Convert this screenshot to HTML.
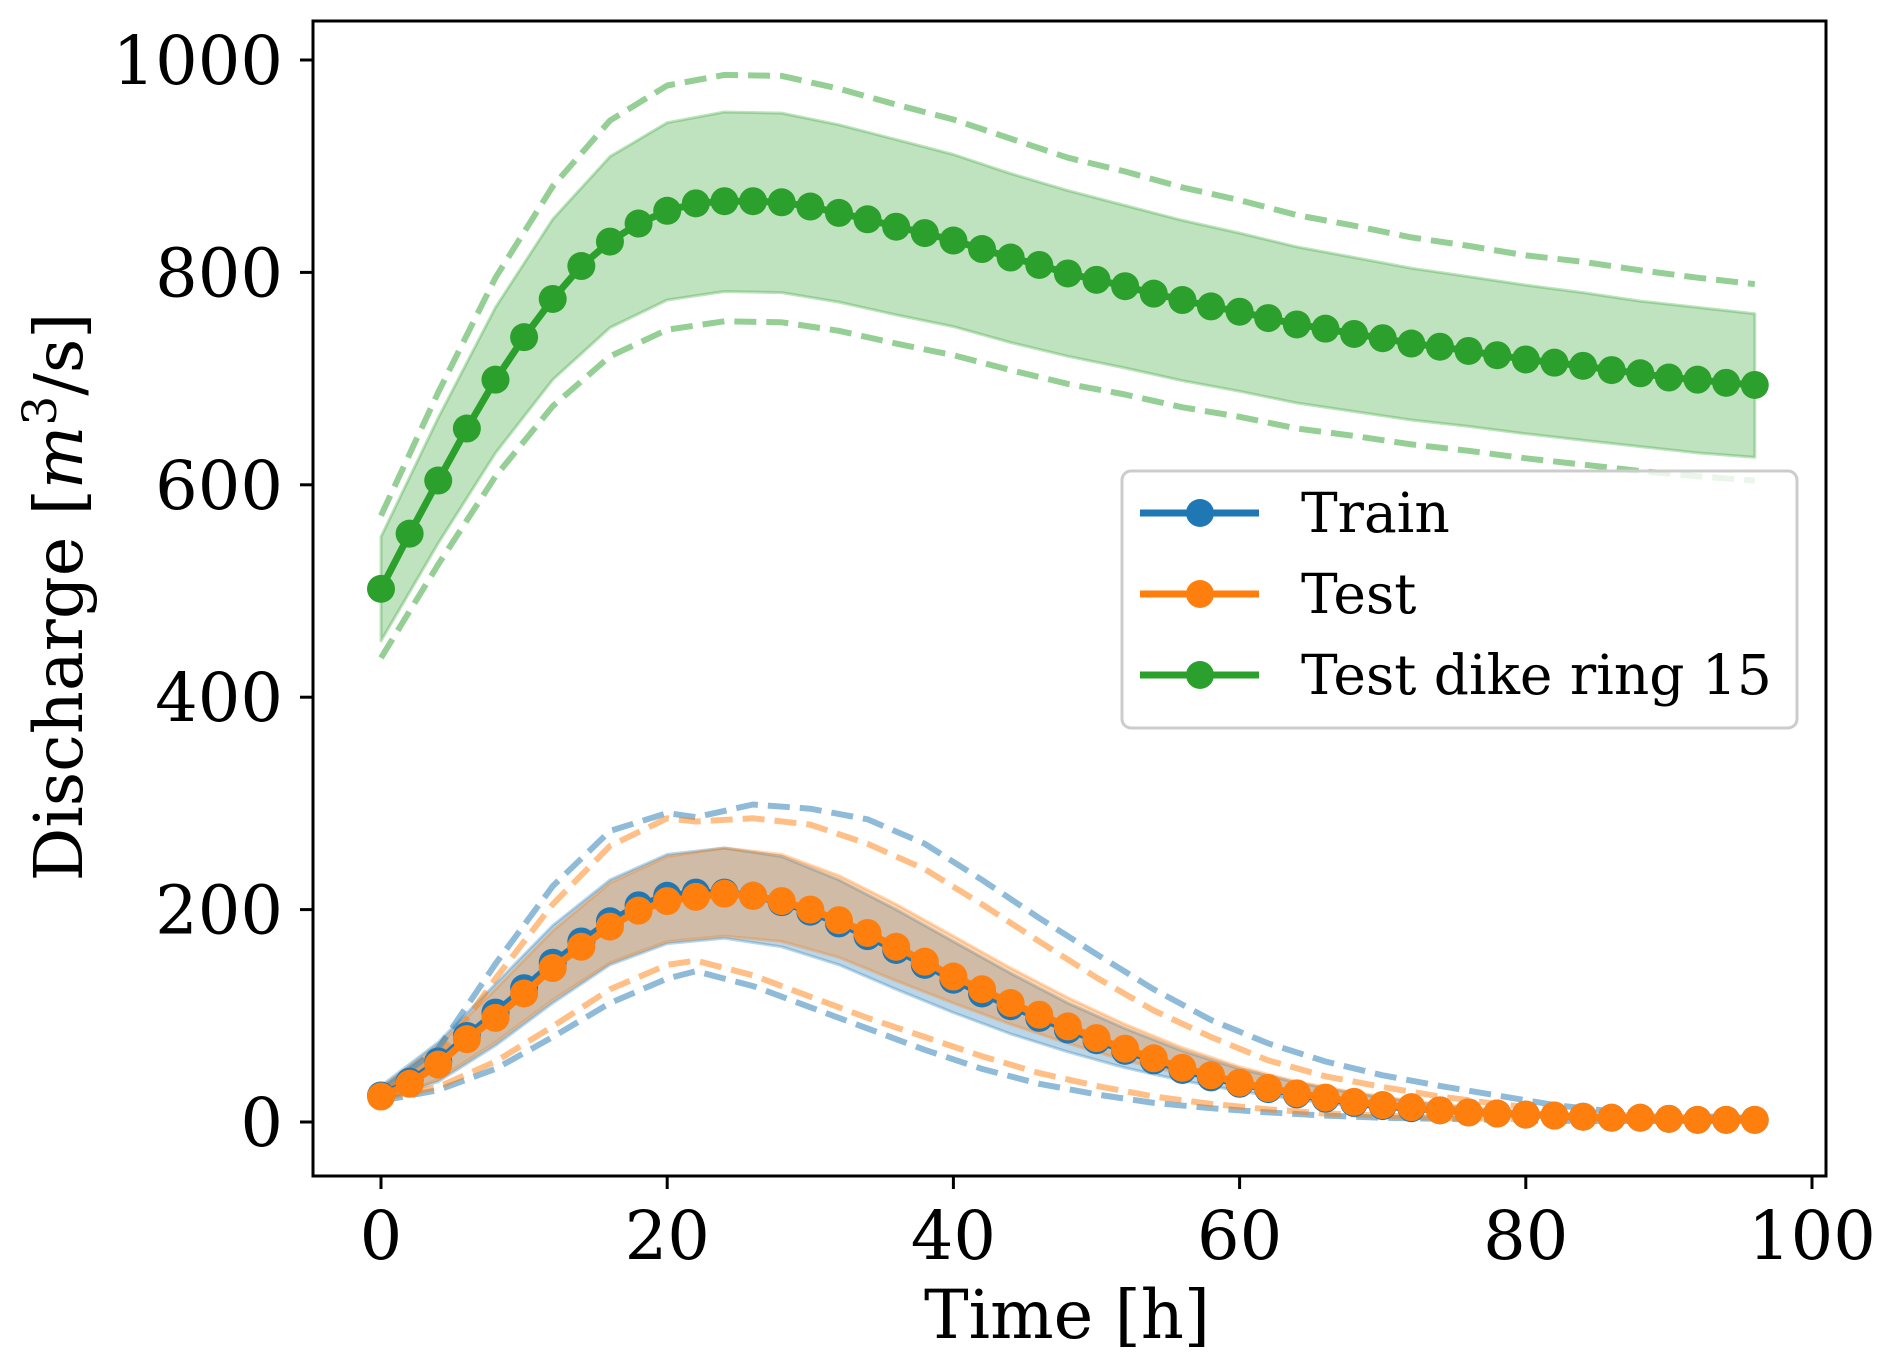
<!DOCTYPE html>
<html><head><meta charset="utf-8">
<style>
html,body{margin:0;padding:0;background:#fff;}
svg{display:block;}
text{font-family:"DejaVu Serif","Liberation Serif",serif;fill:#000;}
</style></head>
<body>
<svg id="chart" width="1891" height="1366" viewBox="0 0 1891 1366" xmlns="http://www.w3.org/2000/svg">
<rect width="1891" height="1366" fill="#fff"/>
<g id="plot"></g>
<g id="axes"></g>
<g id="legend"></g>
</svg>
<script>
// ---- data ----
const meanX = [0,2,4,6,8,10,12,14,16,18,20,22,24,26,28,30,32,34,36,38,40,42,44,46,48,50,52,54,56,58,60,62,64,66,68,70,72,74,76,78,80,82,84,86,88,90,92,94,96];
const greenMean = [502,554,604,653,699,739,775,806,829,846,858,865,867,867,866,862,856,850,843,837,830,822,814,807,799,793,787,780,774,768,763,757,751,747,742,738,733,730,726,722,718,715,712,708,705,701,699,696,694];
const orangeMean = [24,36,54,78,98,121,145,165,184,199,208,212,215,213,208,200,190,178,165,151,137,125,112,101,90,79,69,60,51,44,37,32,27,23,19,16,14,11,9,8,7,6,5,4,4,3,2,2,2];
const blueMean = [25,38,57,81,103,126,150,170,189,204,213,216,216,213,207,198,187,175,162,148,134,121,109,98,87,77,67,58,49,42,36,31,26,22,18,15,13,11,9,8,7,6,5,4,4,3,2,2,2];

const bandX = [0,4,8,12,16,20,24,28,32,36,40,44,48,52,56,60,64,68,72,76,80,84,88,92,96];
const greenUpper = [551,663,767,850,909,941,951,950,939,925,911,893,877,863,849,837,824,814,804,796,788,781,773,767,761];
const greenLower = [453,545,630,699,748,774,782,781,772,760,749,734,721,710,698,688,677,669,661,655,648,642,636,630,626];
const greenDashUpper = [571,687,795,881,943,976,986,985,973,958,944,926,908,895,880,868,854,844,833,825,816,810,802,795,789];
const greenDashLower = [437,525,608,674,721,746,754,753,745,733,722,708,695,685,673,664,653,646,638,632,625,619,613,608,604];
const orangeUpper = [32,72,125,180,225,250,258,252,232,205,175,145,117,92,70,52,38,28,20,14,10,7,5,4,3];
const orangeLower = [20,40,75,115,150,170,175,170,155,133,112,92,74,58,45,34,25,18,13,9,6,5,3,2,2];
const blueUpper = [34,75,130,185,228,252,258,250,228,200,170,140,112,88,67,50,37,27,19,13,9,7,5,4,3];
const blueLower = [20,38,72,112,148,168,173,165,148,125,103,83,66,51,39,29,21,15,11,8,6,4,3,2,2];

const dashX = [0,4,8,12,16,20,22,26,30,34,38,42,46,50,54,58,62,66,70,74,78,82,86,90,96];
const blueDashUpper = [29,69,149,222,274,291,287,299,295,285,262,228,192,158,125,96,74,57,44,34,25,16,10,6,4];
const blueDashLower = [20,30,50,80,112,135,142,128,108,88,68,50,36,26,18,13,9,6,4,3,2,1,1,1,1];
const orangeDashUpper = [27,60,135,205,260,286,283,286,280,262,238,205,170,136,105,80,58,43,33,24,17,11,7,5,3];
const orangeDashLower = [22,33,57,90,125,148,152,138,118,98,80,62,46,34,24,17,12,8,6,4,3,2,1,1,1];

const xTicks = [0,20,40,60,80,100];
const yTicks = [0,200,400,600,800,1000];

// ---- scales ----
const X0=381, X1=1812, Y0=1122, Y1000=60;
function sx(v){return X0+(X1-X0)*v/100;}
function sy(v){return Y0+(Y1000-Y0)*v/1000;}
const NS="http://www.w3.org/2000/svg";
function mk(tag,attrs,parent){const e=document.createElementNS(NS,tag);for(const k in attrs)e.setAttribute(k,attrs[k]);parent.appendChild(e);return e;}
function pts(xs,ys){return xs.map((x,i)=>sx(x).toFixed(1)+","+sy(ys[i]).toFixed(1)).join(" ");}

const plot=document.getElementById('plot');
const C={blue:"#1f77b4",orange:"#ff7f0e",green:"#2ca02c"};

function band(xs,up,lo,col,name){
  const p=pts(xs,up)+" "+pts(xs.slice().reverse(),lo.slice().reverse());
  const e=mk('polygon',{points:p,fill:col,'fill-opacity':0.3,stroke:col,'stroke-opacity':0.3,'stroke-width':3,'stroke-linejoin':'round'},plot);
  
  
}
function dash(xs,ys,col,name){
  const e=mk('polyline',{points:pts(xs,ys),fill:'none',stroke:col,'stroke-opacity':0.5,'stroke-width':6,'stroke-dasharray':'22,10','stroke-linejoin':'round'},plot);
  
  
}
function series(xs,ys,col,name){
  const g=mk('g',{},plot);
  
  
  mk('polyline',{points:pts(xs,ys),fill:'none',stroke:col,'stroke-width':7,'stroke-linejoin':'round'},g);
  xs.forEach((x,i)=>{
    const c=mk('circle',{cx:sx(x),cy:sy(ys[i]),r:14,fill:col},g);
    
    
  });
}
band(bandX,greenUpper,greenLower,C.green,'green-band');
band(bandX,blueUpper,blueLower,C.blue,'train-band');
band(bandX,orangeUpper,orangeLower,C.orange,'test-band');
dash(bandX,greenDashUpper,C.green,'green-upper-dashed');
dash(bandX,greenDashLower,C.green,'green-lower-dashed');
dash(dashX,blueDashUpper,C.blue,'train-upper-dashed');
dash(dashX,blueDashLower,C.blue,'train-lower-dashed');
dash(dashX,orangeDashUpper,C.orange,'test-upper-dashed');
dash(dashX,orangeDashLower,C.orange,'test-lower-dashed');
series(meanX,blueMean,C.blue,'train-series');
series(meanX,orangeMean,C.orange,'test-series');
series(meanX,greenMean,C.green,'dike-ring-15-series');

// ---- axes ----
const ax=document.getElementById('axes');
const frame=mk('rect',{x:313,y:21,width:1826-313,height:1176-21,fill:'none',stroke:'#000','stroke-width':3},ax);


xTicks.forEach(t=>{
  mk('line',{x1:sx(t),x2:sx(t),y1:1176,y2:1189,stroke:'#000','stroke-width':3},ax);
  const tx=mk('text',{x:sx(t),y:1259,'text-anchor':'middle','font-size':67},ax);
  tx.textContent=t;
  
  
});
yTicks.forEach(t=>{
  mk('line',{x1:300,x2:313,y1:sy(t),y2:sy(t),stroke:'#000','stroke-width':3},ax);
  const tx=mk('text',{x:283,y:sy(t)+24,'text-anchor':'end','font-size':67},ax);
  tx.textContent=t;
  
  
});
</script>
<svg style="position:absolute;left:0;top:0" width="1891" height="1366">
<text x="1067" y="1338" text-anchor="middle" font-size="67" style="font-family:'DejaVu Serif',serif">Time [h]</text>
<text transform="translate(82,597) rotate(-90)" text-anchor="middle" font-size="67" style="font-family:'DejaVu Serif',serif">Discharge [<tspan font-style="italic">m</tspan><tspan font-size="47" dy="-26">3</tspan><tspan dy="26">/s]</tspan></text>
<g>
<rect x="1122" y="471" width="675" height="257" rx="9" fill="#fff" fill-opacity="0.8" stroke="#cccccc" stroke-width="3"/>
<g>
<line x1="1140" y1="513" x2="1259" y2="513" stroke="#1f77b4" stroke-width="7"/><circle cx="1200" cy="513" r="14" fill="#1f77b4"/>
<text x="1301" y="532" font-size="55" style="font-family:'DejaVu Serif',serif">Train</text></g>
<g>
<line x1="1140" y1="594" x2="1259" y2="594" stroke="#ff7f0e" stroke-width="7"/><circle cx="1200" cy="594" r="14" fill="#ff7f0e"/>
<text x="1301" y="613" font-size="55" style="font-family:'DejaVu Serif',serif">Test</text></g>
<g>
<line x1="1140" y1="675" x2="1259" y2="675" stroke="#2ca02c" stroke-width="7"/><circle cx="1200" cy="675" r="14" fill="#2ca02c"/>
<text x="1301" y="694" font-size="55" style="font-family:'DejaVu Serif',serif">Test dike ring 15</text></g>
</g>
</svg>
</body></html>
